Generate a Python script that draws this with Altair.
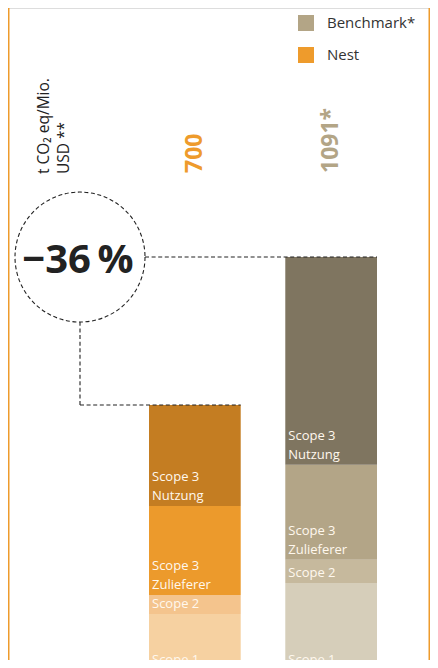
import altair as alt
import pandas as pd
import numpy as np

# ---------------- data ----------------
groups = ["Nest", "Benchmark"]
segments = ["Scope 1", "Scope 2", "Scope 3 Zulieferer", "Scope 3 Nutzung"]
segment_labels = ["Scope 1", "Scope 2", "Scope 3\nZulieferer", "Scope 3\nNutzung"]
nest_values = [148, 50, 235, 267]
bench_values = [230, 61, 251, 549]
total_labels = ["700", "1091*"]
legend_names = ["Nest", "Benchmark*"]
nest_colors = ["#F6D1A1", "#F4C48D", "#EC9A2C", "#C47D22"]
bench_colors = ["#D6CEBA", "#C6B99D", "#B3A587", "#7F7560"]
unit_title = ["t CO\u2082 eq/Mio.", "USD **"]

# ---------------- tables ----------------
rows = []
for g, vals in [("Nest", nest_values), ("Benchmark", bench_values)]:
    ends = np.cumsum(vals)
    starts = ends - np.array(vals)
    for i, s in enumerate(segments):
        rows.append({"group": g, "segment": s, "label": segment_labels[i],
                     "lines": segment_labels[i].count("\n") + 1,
                     "start": float(starts[i]), "end": float(ends[i]),
                     "key": g + "|" + s})
df = pd.DataFrame(rows)
color_domain = [g + "|" + s for g in groups for s in segments]
color_range = nest_colors + bench_colors

nest_total = float(sum(nest_values))
bench_total = float(sum(bench_values))
totals = pd.DataFrame({"group": groups, "total": [nest_total, bench_total],
                       "txt": total_labels, "name": legend_names})
pct = round((nest_total - bench_total) / bench_total * 100)
pct_df = pd.DataFrame({"v": [bench_total], "txt": ["\u2212" + str(abs(pct)) + "\u2009%"]})
bench_df = pd.DataFrame({"v": [bench_total]})
nest_df = pd.DataFrame({"v": [nest_total]})

FONT = "Open Sans"
W, H = 422, 652
Y_BASE = 662
Y_MAX = 1749

xscale = alt.Scale(type="band", domain=groups, range=[141, 369], paddingInner=0.327, paddingOuter=0)
yscale = alt.Scale(domain=[0, Y_MAX], range=[Y_BASE, 0], nice=False, zero=True)
dash = [4, 2.6]
ink = "#222222"
LH = 19

bars = alt.Chart(df).mark_bar().encode(
    x=alt.X("group:N", scale=xscale, axis=None),
    y=alt.Y("start:Q", scale=yscale, axis=None),
    y2="end:Q",
    color=alt.Color("key:N", scale=alt.Scale(domain=color_domain, range=color_range), legend=None),
)


def seg_text(n_lines):
    return alt.Chart(df).transform_filter(alt.datum.lines == n_lines).mark_text(
        align="left", baseline="bottom", dx=3, dy=-3 - LH * (n_lines - 1), color="#FFF8EE",
        fontSize=13, font=FONT, lineBreak="\n", lineHeight=LH,
    ).encode(
        x=alt.X("group:N", scale=xscale, axis=None, bandPosition=0),
        y=alt.Y("start:Q", scale=yscale, axis=None),
        text="label:N",
    )


value_text = alt.Chart(totals).mark_text(
    angle=270, align="left", baseline="middle", fontSize=23, fontWeight="bold", font=FONT,
).encode(
    x=alt.X("group:N", scale=xscale, axis=None),
    y=alt.value(165),
    text="txt:N",
    fill=alt.Fill("name:N", scale=alt.Scale(domain=["Benchmark*", "Nest"], range=["#B3A586", "#EE9B2C"]),
                  legend=alt.Legend(title=None, orient="none", legendX=290, legendY=7,
                                    symbolType="square", symbolSize=256, symbolStrokeWidth=0,
                                    symbolOpacity=1, labelFont=FONT, labelFontSize=15,
                                    labelColor="#333333", labelOffset=13, rowPadding=16,
                                    padding=0)),
)

circle = alt.Chart(bench_df).mark_point(
    shape="circle", size=16900, filled=False, stroke=ink, strokeWidth=1.1, strokeDash=dash, opacity=1,
).encode(x=alt.value(72), y=alt.Y("v:Q", scale=yscale, axis=None))

pct_text = alt.Chart(pct_df).mark_text(
    fontSize=40, fontWeight="bold", font=FONT, color=ink, align="center", baseline="middle", dy=4,
).encode(x=alt.value(70), y=alt.Y("v:Q", scale=yscale, axis=None), text="txt:N")

rule_bench = alt.Chart(bench_df).mark_rule(stroke=ink, strokeWidth=1.1, strokeDash=dash).encode(
    x=alt.value(137), x2=alt.value(369), y=alt.Y("v:Q", scale=yscale, axis=None))
rule_down = alt.Chart(nest_df).mark_rule(stroke=ink, strokeWidth=1.1, strokeDash=dash).encode(
    x=alt.value(72), y=alt.Y("v:Q", scale=yscale, axis=None), y2=alt.value(314))
rule_nest = alt.Chart(nest_df).mark_rule(stroke=ink, strokeWidth=1.1, strokeDash=dash).encode(
    x=alt.value(72), x2=alt.value(232.7), y=alt.Y("v:Q", scale=yscale, axis=None))

title_text = alt.Chart(pd.DataFrame({"t": [unit_title]})).mark_text(
    angle=270, align="left", baseline="top", fontSize=15.5, font=FONT, color=ink, lineHeight=20,
).encode(x=alt.value(29), y=alt.value(166), text="t")

border = alt.Chart(pd.DataFrame({"x": [0.75, W - 0.75]})).mark_rule(stroke="#EE9B2C", strokeWidth=1.5).encode(
    x=alt.X("x:Q", scale=alt.Scale(domain=[0, W], range=[0, W]), axis=None),
    y=alt.value(0), y2=alt.value(H))

chart = alt.layer(
    bars, seg_text(1), seg_text(2), rule_bench, rule_down, rule_nest, circle, pct_text,
    value_text, title_text, border
).resolve_scale(x="independent").properties(
    width=W, height=H, padding=0, autosize=alt.AutoSizeParams(type="none"),
).configure_view(stroke=None).configure(background="white")

chart.save("out.html", embed_options={"renderer": "svg", "actions": False})
